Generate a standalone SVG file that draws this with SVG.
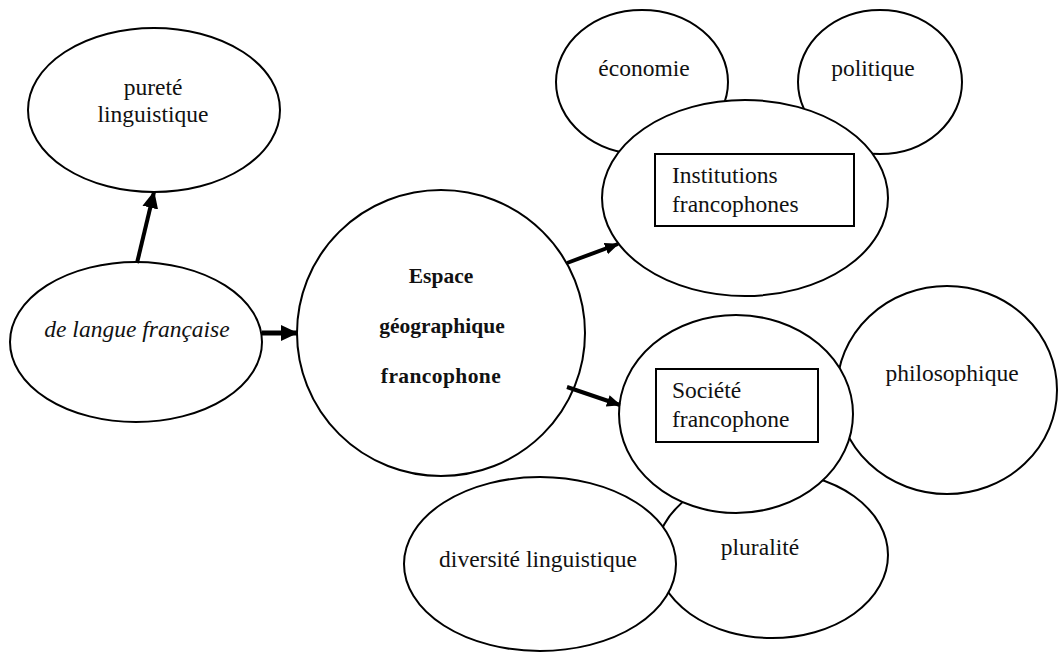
<svg xmlns="http://www.w3.org/2000/svg" width="1058" height="654" viewBox="0 0 1058 654">
<style>
.n{fill:#fff;stroke:#000;stroke-width:2}
.b{fill:none;stroke:#000;stroke-width:2}
text{font-family:"Liberation Serif","Times New Roman",serif;font-size:23.5px;fill:#111}
.c{text-anchor:middle}
.bold{font-weight:bold;font-size:21.5px}
.e{stroke:#000;fill:none}
</style>
<defs>
<marker id="ah" markerUnits="userSpaceOnUse" markerWidth="18" markerHeight="18" refX="16" refY="8" orient="auto" viewBox="0 0 18 16">
<path d="M0,0 L17,8 L0,16 Z" fill="#000"/>
</marker>
<marker id="ahs" markerUnits="userSpaceOnUse" markerWidth="14" markerHeight="14" refX="13" refY="6" orient="auto" viewBox="0 0 14 12">
<path d="M0,0 L14,6 L0,12 Z" fill="#000"/>
</marker>
</defs>
<g id="n-purete">
<ellipse class="n" cx="154" cy="110" rx="126" ry="82"/>
<text class="c" x="153" y="95">pureté</text>
<text class="c" x="153" y="122">linguistique</text>
</g>
<g id="n-langue">
<ellipse class="n" cx="136" cy="342" rx="126" ry="80"/>
<text class="c" x="137" y="337" font-style="italic">de langue française</text>
</g>
<g id="n-espace">
<ellipse class="n" cx="441" cy="333" rx="144" ry="143"/>
<text class="c bold" x="441" y="283">Espace</text>
<text class="c bold" x="442" y="333">géographique</text>
<text class="c bold" x="441" y="383" letter-spacing="0.4">francophone</text>
</g>
<g id="n-economie">
<ellipse class="n" cx="642" cy="82" rx="86" ry="72"/>
<text class="c" x="644" y="76">économie</text>
</g>
<g id="n-politique">
<ellipse class="n" cx="880" cy="82" rx="82" ry="72"/>
<text class="c" x="873" y="76">politique</text>
</g>
<g id="n-institutions">
<ellipse class="n" cx="745" cy="198" rx="143" ry="98"/>
<rect class="b" x="655" y="154" width="199" height="72"/>
<text x="672" y="183">Institutions</text>
<text x="672" y="212">francophones</text>
</g>
<g id="n-philosophique">
<ellipse class="n" cx="947" cy="390" rx="110" ry="104"/>
<text class="c" x="952" y="381">philosophique</text>
</g>
<g id="n-pluralite">
<ellipse class="n" cx="772" cy="555" rx="116" ry="83"/>
<text class="c" x="760" y="555">pluralité</text>
</g>
<g id="n-societe">
<ellipse class="n" cx="736" cy="414" rx="117" ry="99"/>
<rect class="b" x="656" y="369" width="162" height="73"/>
<text x="672" y="398">Société</text>
<text x="672" y="427">francophone</text>
</g>
<g id="n-diversite">
<ellipse class="n" cx="540" cy="564" rx="136" ry="87"/>
<text class="c" x="538" y="567">diversité linguistique</text>
</g>
<g id="connectors">
<line class="e" x1="137" y1="263" x2="154" y2="192" stroke-width="4" marker-end="url(#ah)"/>
<line class="e" x1="262" y1="333" x2="297" y2="333" stroke-width="5" marker-end="url(#ah)"/>
<line class="e" x1="567" y1="263" x2="618" y2="244" stroke-width="4" marker-end="url(#ahs)"/>
<line class="e" x1="567" y1="387" x2="620" y2="405" stroke-width="4" marker-end="url(#ahs)"/>
</g>
</svg>
